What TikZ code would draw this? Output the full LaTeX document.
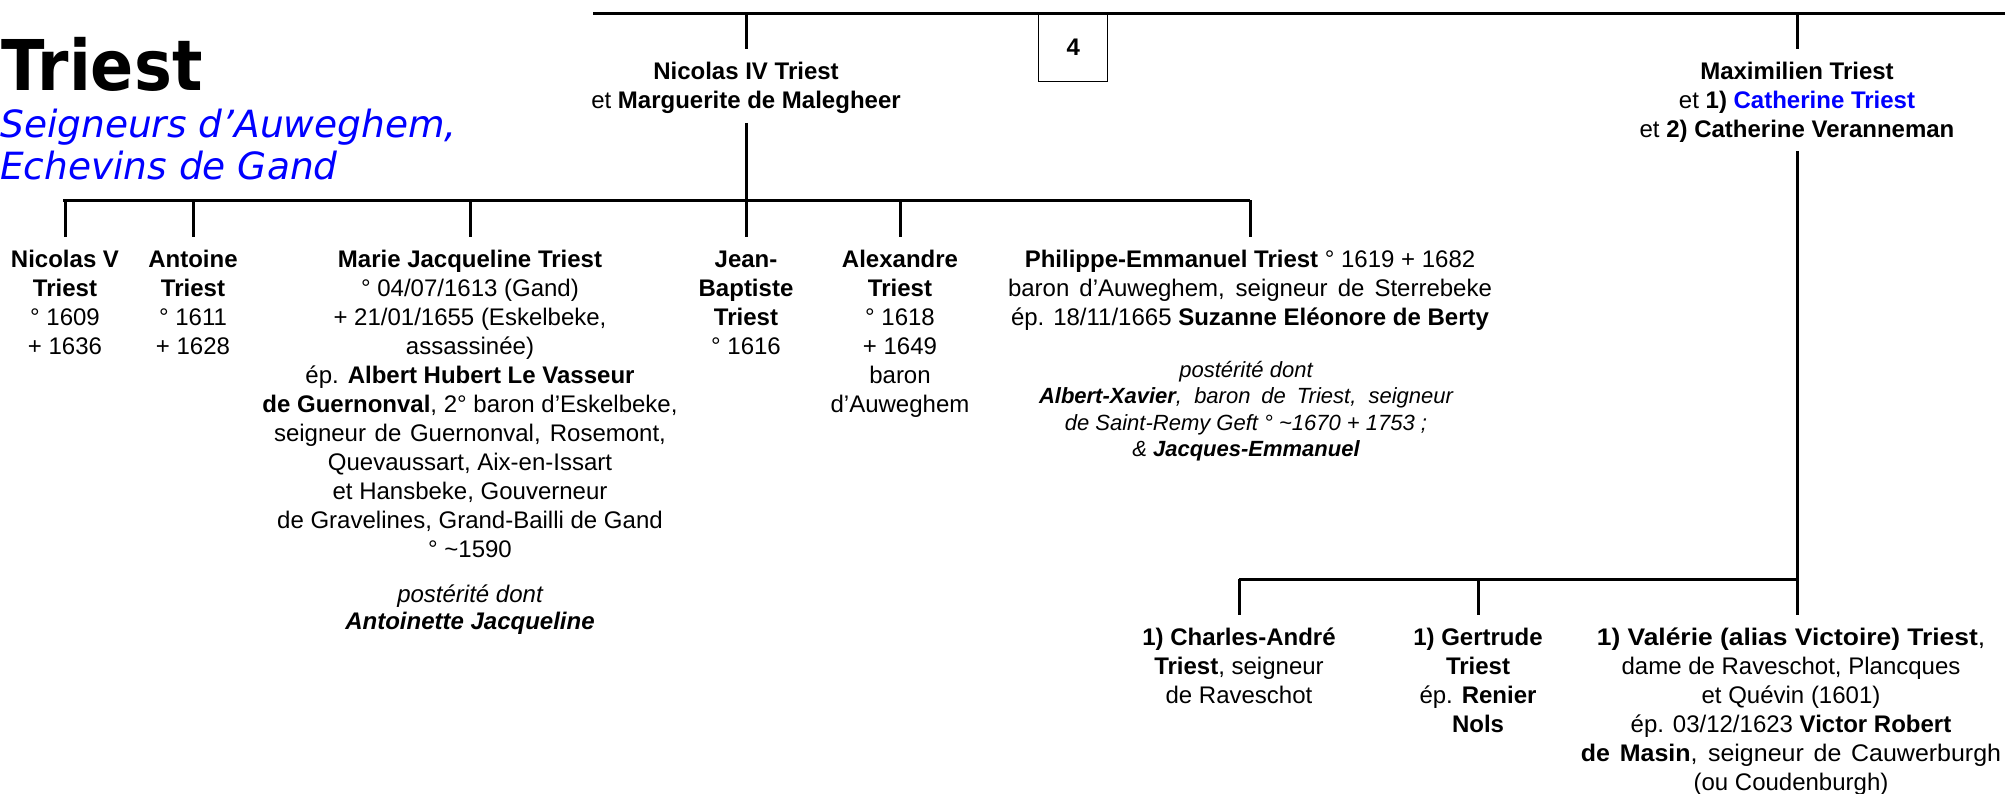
\documentclass[tikz,border=0pt]{standalone}
\usepackage{fontspec}
\setmainfont{Liberation Sans}
\newfontfamily\titlefont{DejaVu Sans}
\usepackage{graphicx}
\definecolor{tblue}{RGB}{0,0,255}
\newcommand{\tb}[1]{\begin{tabular}[t]{@{}c@{}}#1\end{tabular}}
\newcommand{\sx}[2]{\makebox[#1][s]{#2}}
\begin{document}
\begin{tikzpicture}[x=1pt,y=-1pt,
  conn/.style={line width=3pt},
  person/.style={anchor=base, inner sep=0pt, font=\fontsize{24}{29}\selectfont},
  note/.style={anchor=base, inner sep=0pt, font=\fontsize{24}{27}\selectfont\itshape},
  smallnote/.style={anchor=base, inner sep=0pt, font=\fontsize{22}{26.5}\selectfont\itshape},
  numbox/.style={draw, line width=1.4pt, minimum width=69pt, minimum height=68pt, inner sep=0pt, anchor=north west, font=\fontsize{24}{29}\selectfont\bfseries}]
\useasboundingbox (0,0) rectangle (2005,793);

% title
\node[anchor=base west, inner sep=0pt] (title) at (1,90)
  {\titlefont\bfseries\fontsize{70}{70}\selectfont\scalebox{0.91}[1]{Triest}};
\node[anchor=base west, inner sep=0pt, text=tblue] (sub1) at (0,137)
  {\titlefont\itshape\fontsize{37.5}{42}\selectfont Seigneurs d’Auweghem,};
\node[anchor=base west, inner sep=0pt, text=tblue] (sub2) at (0,179)
  {\titlefont\itshape\fontsize{37.5}{42}\selectfont Echevins de Gand};

% top line
\coordinate (topL) at (593,13);
\coordinate (topR) at (2005,13);
\draw[conn] (topL) -- (topR);

% box 4
\node[numbox] (box4) at (1038,13) {4};

% parents
\node[person] (nic4) at (746,79)
  {\tb{\textbf{Nicolas IV Triest}\\ et \textbf{Marguerite de Malegheer}}};
\node[person] (maxi) at (1797,79)
  {\tb{\textbf{Maximilien Triest}\\ et \textbf{1) \textcolor{tblue}{Catherine Triest}}\\ et \textbf{2) Catherine Veranneman}}};

\draw[conn] (nic4 |- topL) -- ([yshift=10pt]nic4.north);
\draw[conn] (maxi |- topL) -- ([yshift=10pt]maxi.north);

% children of Nicolas IV
\coordinate (barA) at (63,200);
\coordinate (barB) at (1250,200);
\draw[conn] (barA) -- (barB);
\draw[conn] ([yshift=-6pt]nic4.south) -- (nic4 |- barA);

\node[person] (c1) at (65,267) {\tb{\textbf{Nicolas V}\\ \textbf{Triest}\\ ° 1609\\ + 1636}};
\node[person] (c2) at (193,267) {\tb{\textbf{Antoine}\\ \textbf{Triest}\\ ° 1611\\ + 1628}};
\node[person] (c3) at (470,267) {\tb{\textbf{Marie Jacqueline Triest}\\
  ° 04/07/1613 (Gand)\\
  + 21/01/1655 (Eskelbeke,\\
  assassinée)\\
  ép. \textbf{Albert Hubert Le Vasseur}\\
  \textbf{de Guernonval}, 2° baron d’Eskelbeke,\\
  \sx{392pt}{seigneur de Guernonval, Rosemont,}\\
  Quevaussart, Aix-en-Issart\\
  et Hansbeke, Gouverneur\\
  de Gravelines, Grand-Bailli de Gand\\
  ° \textasciitilde1590}};
\node[note] (c3n) at (470,602) {\tb{postérité dont\\ \textbf{Antoinette Jacqueline}}};
\node[person] (c4) at (746,267) {\tb{\textbf{Jean-}\\ \textbf{Baptiste}\\ \textbf{Triest}\\ ° 1616}};
\node[person] (c5) at (900,267) {\tb{\textbf{Alexandre}\\ \textbf{Triest}\\ ° 1618\\ + 1649\\ baron\\ d’Auweghem}};
\node[person] (c6) at (1250,267) {\tb{\textbf{Philippe-Emmanuel Triest} ° 1619 + 1682\\
  \sx{484pt}{baron d’Auweghem, seigneur de Sterrebeke}\\
  ép. 18/11/1665 \textbf{Suzanne Eléonore de Berty}}};
\node[smallnote] (c6n) at (1246,377) {\tb{postérité dont\\
  \sx{414pt}{\textbf{Albert-Xavier}, baron de Triest, seigneur}\\
  de Saint-Remy Geft ° \textasciitilde1670 + 1753 ;\\
  \& \textbf{Jacques-Emmanuel}}};

\foreach \c in {c1,c2,c3,c4,c5,c6}
  \draw[conn] (\c |- barA) -- ([yshift=10pt]\c.north);

% children of Maximilien
\coordinate (barC) at (1239,579);
\draw[conn] (barC) -- (maxi |- barC);

\node[person] (d1) at (1239,645) {\tb{\textbf{1) Charles-André}\\ \textbf{Triest}, seigneur\\ de Raveschot}};
\node[person] (d2) at (1478,645) {\tb{\textbf{1) Gertrude}\\ \textbf{Triest}\\ ép. \textbf{Renier}\\ \textbf{Nols}}};
\node[person] (d3) at (1791,645) {\tb{\scalebox{1.1}[1]{\textbf{1) Valérie (alias Victoire) Triest},}\\
  dame de Raveschot, Plancques\\
  et Quévin (1601)\\
  ép. 03/12/1623 \textbf{Victor Robert}\\
  \scalebox{1.04}[1]{\sx{404pt}{\textbf{de Masin}, seigneur de Cauwerburgh}}\\
  (ou Coudenburgh)}};

\draw[conn] ([yshift=-5pt]maxi.south) -- (maxi |- barC);
\draw[conn] (d1 |- barC) -- ([yshift=10pt]d1.north);
\draw[conn] (d2 |- barC) -- ([yshift=10pt]d2.north);
\draw[conn] (maxi |- barC) -- ([yshift=10pt]maxi.south |- d3.north);
\end{tikzpicture}
\end{document}
